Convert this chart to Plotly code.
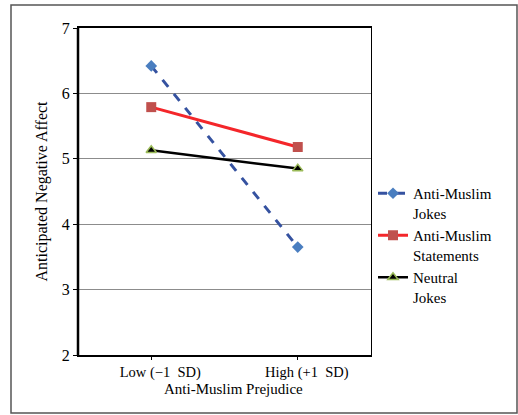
import plotly.graph_objects as go

categories = ["Low (\u22121  SD)", "High (+1  SD)"]
jokes = [6.42, 3.65]
statements = [5.79, 5.18]
neutral = [5.13, 4.85]
series_names = ["Anti-Muslim<br>Jokes", "Anti-Muslim<br>Statements", "Neutral<br>Jokes"]

W, H = 518, 415
ml, mr, mt, mb = 78, 147, 28, 60
pw, ph = W - ml - mr, H - mt - mb

def px_x(x):
    return (x - ml) / pw

def px_y(y):
    return (H - mb - y) / ph

fig = go.Figure()
fig.add_trace(go.Scatter(
    x=categories, y=jokes, name=series_names[0], mode="lines+markers",
    line=dict(color="#3552A0", width=3, dash="dash"),
    marker=dict(symbol="diamond", size=9, color="#4A7EC0")))
fig.add_trace(go.Scatter(
    x=categories, y=statements, name=series_names[1], mode="lines+markers",
    line=dict(color="#F4262A", width=3),
    marker=dict(symbol="square", size=10, color="#C0504D")))
fig.add_trace(go.Scatter(
    x=categories, y=neutral, name=series_names[2], mode="lines+markers",
    line=dict(color="#000000", width=2.5),
    marker=dict(symbol="triangle-up", size=9, color="#000000",
                line=dict(color="#9BBB59", width=1.5))))

font = "Liberation Serif, Times New Roman, serif"
fig.update_layout(
    width=W, height=H,
    margin=dict(l=ml, r=mr, t=mt, b=mb),
    paper_bgcolor="white", plot_bgcolor="white",
    font=dict(family=font, size=14, color="#000000"),
    showlegend=True,
    legend=dict(x=px_x(373), y=px_y(177), xanchor="left", yanchor="top",
                font=dict(family=font, size=15, color="#000"),
                valign="top", itemwidth=30, tracegroupgap=0,
                bgcolor="rgba(0,0,0,0)"),
    xaxis=dict(range=[-0.5, 1.5], showgrid=False, showline=True,
               linecolor="#000", linewidth=1.5, mirror=True,
               ticks="outside", ticklen=3, tickcolor="#000",
               ticklabelshift=9,
               tickfont=dict(family=font, size=14.5), zeroline=False),
    yaxis=dict(range=[2, 7], dtick=1, showgrid=True, gridcolor="#8C8C8C",
               gridwidth=1, showline=True, linecolor="#000", linewidth=1.2,
               mirror=True, ticks="outside", ticklen=4, tickcolor="#000",
               title=dict(text="Anticipated Negative Affect", standoff=10,
                          font=dict(family=font, size=16)),
               tickfont=dict(family=font, size=16), zeroline=False),
    annotations=[
        dict(text="Anti-Muslim Prejudice", xref="paper", yref="paper",
             x=px_x(233), y=px_y(389), xanchor="center", yanchor="middle",
             showarrow=False, font=dict(family=font, size=15, color="#000")),
    ],
    shapes=[
        dict(type="rect", xref="paper", yref="paper",
             x0=px_x(11), x1=px_x(517), y0=px_y(413), y1=px_y(5),
             line=dict(color="#555555", width=1.5), fillcolor="rgba(0,0,0,0)",
             layer="below"),
        dict(type="line", xref="paper", yref="paper", x0=0, x1=0, y0=0, y1=1,
             line=dict(color="#000", width=2.5)),
    ],
)

fig.write_html("out.html", post_script="document.body.style.margin='0';",
               config={"displayModeBar": False})
